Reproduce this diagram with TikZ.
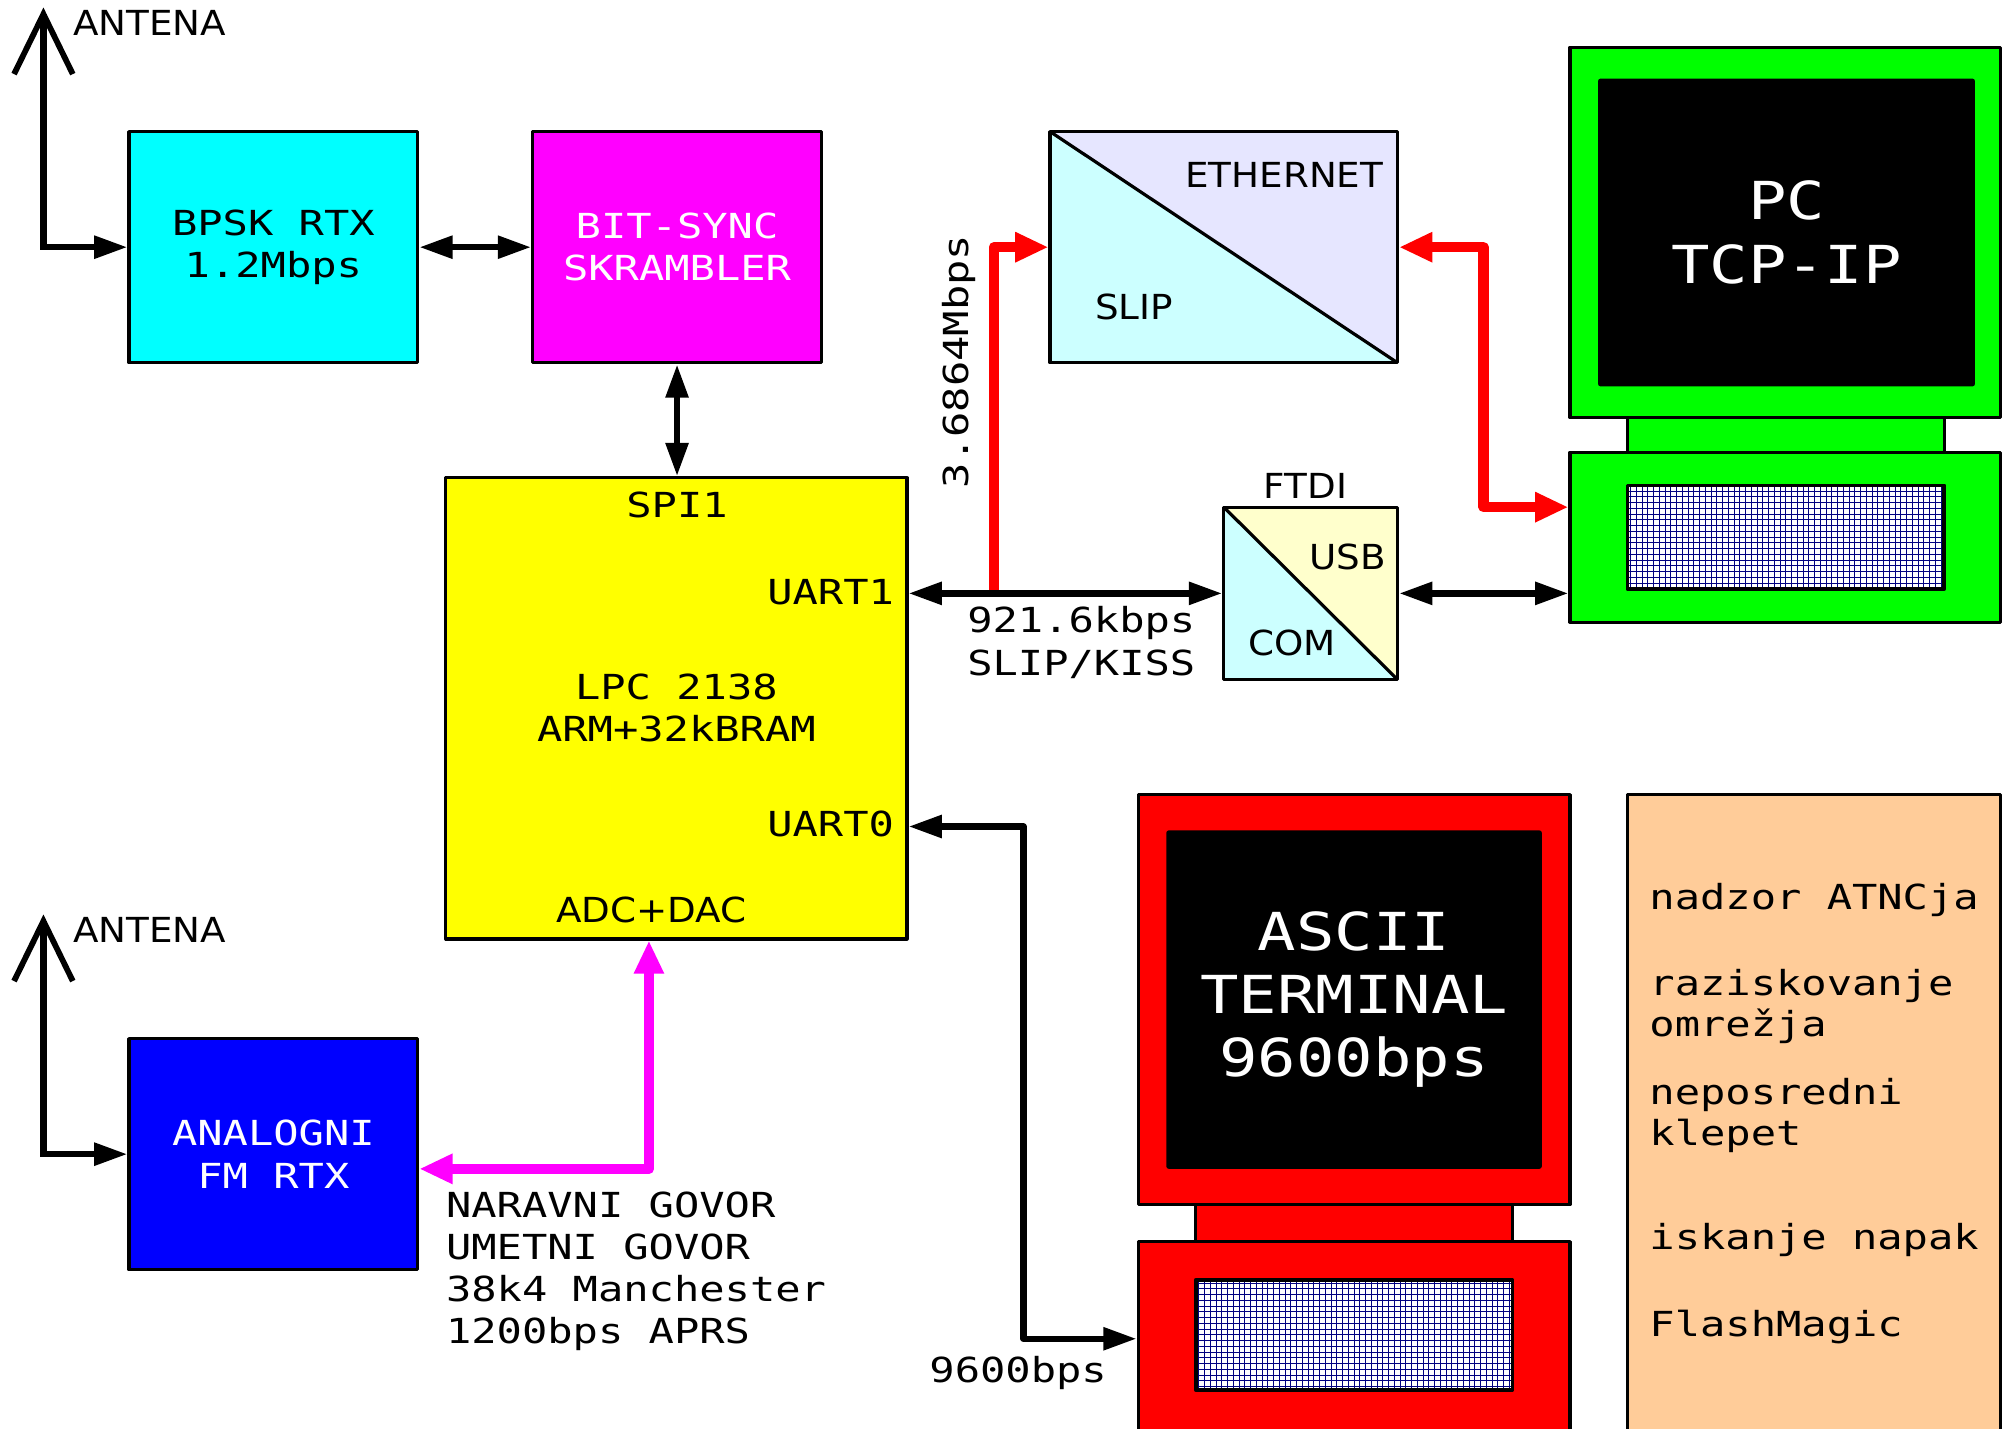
\documentclass[tikz,border=0pt]{standalone}
\usepackage{fontspec}
\setmainfont{DejaVu Sans}[FakeStretch=1.08]
\newfontfamily\mono{DejaVu Sans Mono}[FakeStretch=1.22]
\usetikzlibrary{arrows.meta}

\definecolor{turkizna}{HTML}{00FFFF}
\definecolor{roza}{HTML}{FF00FF}
\definecolor{rumena}{HTML}{FFFF00}
\definecolor{svetlomodra}{HTML}{CCFFFF}
\definecolor{lila}{HTML}{E6E6FF}
\definecolor{svetlorumena}{HTML}{FFFFCC}
\definecolor{oranzna}{HTML}{FFCC99}
\definecolor{tipke}{HTML}{000080}
\newcommand\mali{\mono\fontsize{27bp}{33bp}\selectfont}
\newcommand\veliki{\mono\fontsize{41bp}{49.5bp}\selectfont}
\newcommand\besedilo{\fontsize{27bp}{33bp}\selectfont}

\begin{document}
\begin{tikzpicture}[x=1bp, y=-1bp, line join=round,
    blok/.style={draw, line width=2.5bp, inner sep=0pt, align=center, font=\mali},
    ohisje/.style={draw, line width=2.5bp, inner sep=0pt},
    pretvornik/.style 2 args={blok, fill=#1, path picture={
        \fill[#2] (path picture bounding box.north west) -- (path picture bounding box.south east)
            -- (path picture bounding box.south west) -- cycle;
        \draw[line width=2.5bp] (path picture bounding box.north west) -- (path picture bounding box.south east);}},
    tipkovnica/.style={draw, fill=white, line width=3bp, inner sep=0pt, path picture={
        \draw[tipke, line width=0.7bp, step=4.5bp] (path picture bounding box.south west)
            grid (path picture bounding box.north east);}},
    napis/.style={inner sep=0pt, font=\mali},
    oznaka/.style={inner sep=0pt, font=\besedilo},
    vez/.style={line width=5bp, {Triangle[length=26bp,width=17bp]}-{Triangle[length=26bp,width=17bp]}},
    tja/.style={line width=5bp, -{Triangle[length=26bp,width=17bp]}},
    antena/.style={line width=4.5bp, line join=miter},
    rdeca/.style={red, line width=8bp, {Triangle[length=26bp,width=22bp]}-{Triangle[length=26bp,width=22bp]}},
    vijolicna/.style={roza, line width=8bp, {Triangle[length=26bp,width=22bp]}-{Triangle[length=26bp,width=22bp]}}
  ]
  \useasboundingbox (0,0) rectangle (1568,1118);

  % bloki
  \node[blok, fill=turkizna, minimum width=226bp, minimum height=181bp] (bpsk) at (214,193.5) {BPSK RTX\\1.2Mbps};
  \node[blok, fill=roza, text=white, minimum width=226bp, minimum height=181bp] (bitsync) at (530,193.5) {BIT-SYNC\\SKRAMBLER};
  \node[blok, fill=rumena, minimum width=361bp, minimum height=361bp] (lpc) at (529.5,554.5) {LPC 2138\\ARM+32kBRAM};
  \node[blok, fill=blue, text=white, minimum width=226bp, minimum height=181bp] (analog) at (214,903.5) {ANALOGNI\\FM RTX};
  \node[pretvornik={lila}{svetlomodra}, minimum width=272bp, minimum height=181bp] (slip) at (958,193.5) {};
  \node[pretvornik={svetlorumena}{svetlomodra}, minimum width=136bp, minimum height=135bp] (ftdi) at (1026,464.5) {};
  \node[ohisje, fill=oranzna, minimum width=292bp, minimum height=510bp] (opravila) at (1420,877) {};

  % PC
  \node[ohisje, fill=green, minimum width=248bp, minimum height=27bp] (pcvrat) at (1398,340.5) {};
  \node[ohisje, fill=green, minimum width=337bp, minimum height=290bp] (pc) at (1397.5,182) {};
  \node[fill=black, rounded corners=2bp, minimum width=295bp, minimum height=241bp, inner sep=0pt,
    text=white, align=center, font=\veliki] (pczaslon) at (1398.5,182) {PC\\TCP-IP};
  \node[ohisje, fill=green, minimum width=337bp, minimum height=133bp] (pcbaza) at (1397.5,420.5) {};
  \node[tipkovnica, minimum width=248bp, minimum height=81bp] (pctipke) at (1398,420.5) {};

  % terminal
  \node[ohisje, fill=red, minimum width=248bp, minimum height=29bp] (tvrat) at (1060,957.5) {};
  \node[ohisje, fill=red, minimum width=338bp, minimum height=321bp] (terminal) at (1060,782.5) {};
  \node[fill=black, rounded corners=2bp, minimum width=294bp, minimum height=265bp, inner sep=0pt,
    text=white, align=center, font=\veliki] (tzaslon) at (1060,782.5) {ASCII\\TERMINAL\\9600bps};
  \node[ohisje, fill=red, minimum width=338bp, minimum height=160bp] (tbaza) at (1060,1052) {};
  \node[tipkovnica, minimum width=248bp, minimum height=86bp] (ttipke) at (1060,1045) {};

  % antene
  \coordinate (vrh1) at (34,11);
  \coordinate (vrh2) at (34,721);
  \foreach \v in {vrh1,vrh2} {
    \draw[antena] (\v) ++(-23,47) -- (\v) -- ++(23,47);
  }
  \draw[antena, tja] (vrh1) |- (bpsk.west);
  \draw[antena, tja] (vrh2) |- (analog.west);

  % povezave
  \draw[vez] (bpsk) -- (bitsync);
  \draw[vez] (bitsync.south) -- (bitsync.south |- lpc.north);
  \coordinate (odcep) at (778,464.5);
  \draw[rdeca, -{Triangle[length=26bp,width=22bp]}] (odcep) |- (slip.west);
  \draw[rdeca] (slip.east) -- ++(66,0) |- ([yshift=23.5bp]pcbaza.west);
  \draw[vez] (ftdi.west -| lpc.east) -- (ftdi.west);
  \draw[vez] (ftdi.east) -- (ftdi.east -| pcbaza.west);
  \draw[vez] ([yshift=-92.5bp]lpc.east) -- ++(90,0) |- ([yshift=4bp]tbaza.west);
  \draw[vijolicna] ([yshift=-11.5bp]analog.east) -| ([xshift=-21.5bp]lpc.south);

  % napisi
  \node[oznaka, anchor=base west] (ant1) at (57,28) {ANTENA};
  \node[oznaka, anchor=base west] (ant2) at (57,738) {ANTENA};
  \node[napis, anchor=base] (spi) at (530,405) {SPI1};
  \node[napis, anchor=base east] (uart1) at (700,473) {UART1};
  \node[napis, anchor=base east] (uart0) at (700,655) {UART0};
  \node[oznaka, anchor=base] (adc) at (510,722) {ADC+DAC};
  \node[oznaka, anchor=base east] (eth) at (1083,147) {ETHERNET};
  \node[oznaka, anchor=base west] (sl) at (857,250) {SLIP};
  \node[oznaka, anchor=base] (ftdinapis) at (1022,390) {FTDI};
  \node[oznaka, anchor=base east] (usb) at (1085,446) {USB};
  \node[oznaka, anchor=base west] (com) at (977,513) {COM};
  \node[napis, rotate=90] (hitrost1) at (751,283) {3.6864Mbps};
  \node[napis, anchor=west, align=left] (hitrost2) at (757,503) {921.6kbps\\SLIP/KISS};
  \node[napis, anchor=base] (hitrost3) at (797,1082) {9600bps};
  \node[napis, anchor=west, align=left] (govor) at (349,995) {NARAVNI GOVOR\\UMETNI GOVOR\\38k4 Manchester\\1200bps APRS};
  \node[napis, anchor=base west] (op1) at (1291,712) {nadzor ATNCja};
  \node[napis, anchor=base west] (op2) at (1291,779) {raziskovanje};
  \node[napis, anchor=base west] (op3) at (1291,811) {omrežja};
  \node[napis, anchor=base west] (op4) at (1291,865) {neposredni};
  \node[napis, anchor=base west] (op5) at (1291,897) {klepet};
  \node[napis, anchor=base west] (op6) at (1291,978) {iskanje napak};
  \node[napis, anchor=base west] (op7) at (1291,1046) {FlashMagic};
\end{tikzpicture}
\end{document}
